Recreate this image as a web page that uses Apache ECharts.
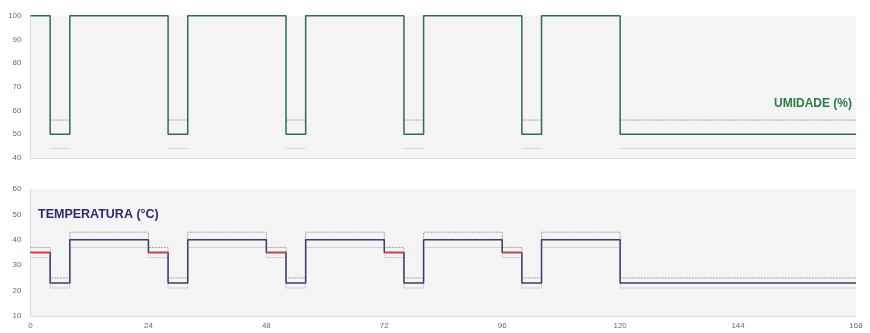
<!DOCTYPE html>
<html><head><meta charset="utf-8">
<script src="https://cdn.jsdelivr.net/npm/echarts@6/dist/echarts.min.js"></script>
<style>html,body{margin:0;padding:0;background:#fff}#c{width:870px;height:333px}</style>
</head><body><div id="c"></div>
<script>
// Humidity (%) segments: value held from time[i] to time[i+1]
const humTimes   = [0, 4, 8, 28, 32, 52, 56, 76, 80, 100, 104, 120, 168];
const humValues  = [100, 50, 100, 50, 100, 50, 100, 50, 100, 50, 100, 50];
const humUpper   = [null, 56, null, 56, null, 56, null, 56, null, 56, null, 56];
const humLower   = [null, 44, null, 44, null, 44, null, 44, null, 44, null, 44];

// Temperature (°C) segments
const tempTimes  = [0, 4, 8, 24, 28, 32, 48, 52, 56, 72, 76, 80, 96, 100, 104, 120, 168];
const tempValues = [35, 23, 40, 35, 23, 40, 35, 23, 40, 35, 23, 40, 35, 23, 40, 23];
const tempUpper  = [37, 25, 43, 37, 25, 43, 37, 25, 43, 37, 25, 43, 37, 25, 43, 25];
const tempLower  = [33, 21, 37, 33, 21, 37, 33, 21, 37, 33, 21, 37, 33, 21, 37, 21];
const tempHold   = [35, null, null, 35, null, null, 35, null, null, 35, null, null, 35, null, null, null];

const xTicks = [0, 24, 48, 72, 96, 120, 144, 168];

function stepData(times, vals) {
  const d = [];
  for (let i = 0; i < vals.length; i++) d.push([times[i], vals[i]]);
  d.push([times[times.length - 1], vals[vals.length - 1]]);
  return d;
}
function segData(times, vals) {
  const d = [];
  for (let i = 0; i < vals.length; i++) {
    if (vals[i] == null) continue;
    d.push([times[i], vals[i]], [times[i + 1], vals[i]], [times[i + 1], null]);
  }
  return d;
}

const font = 'Liberation Sans';
const axisLabel = { color: '#6a6a6a', fontSize: 8, fontFamily: font };
const chart = echarts.init(document.getElementById('c'), null, { renderer: 'canvas' });

const grids = [
  { left: 30.5, right: 14, top: 15.7, bottom: 175, show: true, backgroundColor: '#f4f4f4', borderWidth: 0 },
  { left: 30.5, right: 14, top: 189, bottom: 17, show: true, backgroundColor: '#f4f4f4', borderWidth: 0 }
];
const xAxes = [0, 1].map(i => ({
  type: 'value', gridIndex: i, min: 0, max: 168, interval: 24,
  axisLine: { show: true, lineStyle: { color: '#dcdcdc' } },
  axisTick: { show: false }, splitLine: { show: false },
  axisLabel: Object.assign({ show: i === 1, margin: 6, formatter: v => xTicks.includes(v) ? String(v) : '' }, axisLabel)
}));
const yAxes = [
  { type: 'value', gridIndex: 0, min: 40, max: 100, interval: 10 },
  { type: 'value', gridIndex: 1, min: 10, max: 60, interval: 10 }
].map(a => Object.assign(a, {
  axisLine: { show: true, lineStyle: { color: '#dcdcdc' } },
  axisTick: { show: false }, splitLine: { show: false },
  axisLabel: Object.assign({ margin: 9 }, axisLabel)
}));

const line = (name, xi, data, color, width, type, step, z) => ({
  name, type: 'line', xAxisIndex: xi, yAxisIndex: xi, data, step, z,
  symbol: 'none', connectNulls: false, animation: false,
  lineStyle: { color, width, type }
});

chart.setOption({
  animation: false,
  grid: grids, xAxis: xAxes, yAxis: yAxes,
  graphic: [
    { type: 'text', right: 18, top: 98, style: { text: 'UMIDADE (%)', fill: '#2e7a47', font: 'bold 12px ' + font } },
    { type: 'text', left: 38, top: 208, style: { text: 'TEMPERATURA (°C)', fill: '#2d2a6b', font: 'bold 12.5px ' + font } }
  ],
  series: [
    line('hum-upper', 0, segData(humTimes, humUpper), '#a0a0a0', 1, [2, 1], false, 2),
    line('hum-lower', 0, segData(humTimes, humLower), '#d4d4d4', 1, 'solid', false, 2),
    line('Umidade', 0, stepData(humTimes, humValues), '#2f6e48', 1.5, 'solid', 'end', 3),
    line('temp-upper', 1, stepData(tempTimes, tempUpper), '#a4a4a4', 1, [2, 1], 'end', 2),
    line('temp-lower', 1, stepData(tempTimes, tempLower), '#d0d0d8', 1, 'solid', 'end', 2),
    line('Temperatura', 1, stepData(tempTimes, tempValues), '#3d3b6b', 1.5, 'solid', 'end', 3),
    line('temp-hold', 1, segData(tempTimes, tempHold), '#e0393a', 1.3, 'solid', false, 4)
  ]
});
</script></body></html>
